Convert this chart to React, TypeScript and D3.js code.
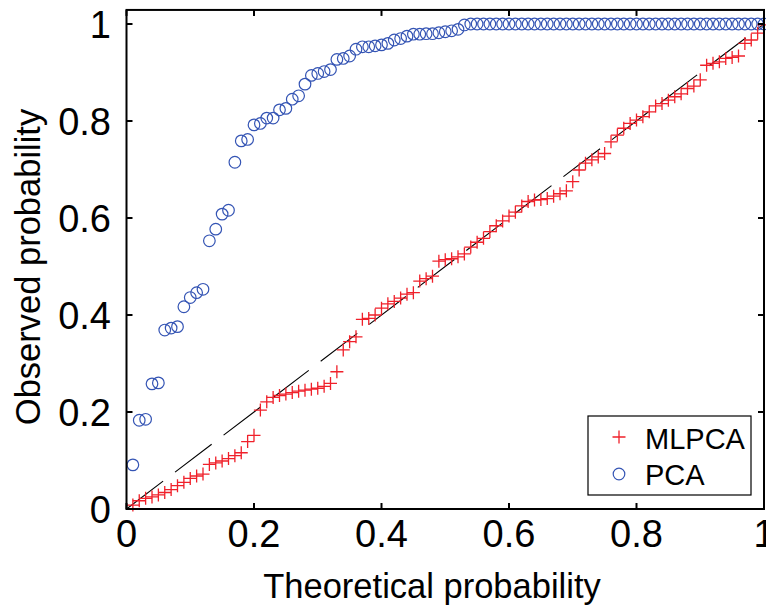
import React from "react";
import * as d3 from "d3";

// Sorted observed probabilities for each method, plotted at i/100
const mlpcaValues = [
  0.008, 0.017, 0.022, 0.025, 0.029, 0.034, 0.040, 0.048, 0.055, 0.063,
  0.068, 0.072, 0.092, 0.095, 0.099, 0.104, 0.110, 0.116, 0.139, 0.152,
  0.204, 0.221, 0.230, 0.234, 0.237, 0.240, 0.243, 0.245, 0.247, 0.249,
  0.253, 0.259, 0.283, 0.328, 0.345, 0.355, 0.391, 0.393, 0.400, 0.414,
  0.423, 0.428, 0.435, 0.443, 0.446, 0.470, 0.475, 0.480, 0.511, 0.514,
  0.516, 0.520, 0.526, 0.540, 0.550, 0.558, 0.572, 0.584, 0.594, 0.604,
  0.612, 0.625, 0.634, 0.637, 0.638, 0.640, 0.645, 0.650, 0.656, 0.675,
  0.699, 0.713, 0.720, 0.726, 0.733, 0.757, 0.771, 0.785, 0.795, 0.802,
  0.809, 0.819, 0.831, 0.836, 0.843, 0.850, 0.856, 0.867, 0.872, 0.885,
  0.915, 0.919, 0.922, 0.929, 0.931, 0.934, 0.960, 0.967, 0.981, 0.998,
];

const pcaValues = [
  0.091, 0.183, 0.185, 0.258, 0.260, 0.369, 0.373, 0.376, 0.417, 0.436,
  0.446, 0.453, 0.553, 0.577, 0.608, 0.616, 0.715, 0.759, 0.762, 0.792,
  0.795, 0.806, 0.806, 0.823, 0.826, 0.845, 0.852, 0.876, 0.894, 0.898,
  0.902, 0.906, 0.927, 0.929, 0.934, 0.948, 0.953, 0.953, 0.955, 0.957,
  0.960, 0.967, 0.970, 0.975, 0.979, 0.979, 0.980, 0.980, 0.982, 0.984,
  0.986, 0.989, 0.998, 1, 1, 1, 1, 1, 1, 1,
  1, 1, 1, 1, 1, 1, 1, 1, 1, 1,
  1, 1, 1, 1, 1, 1, 1, 1, 1, 1,
  1, 1, 1, 1, 1, 1, 1, 1, 1, 1,
  1, 1, 1, 1, 1, 1, 1, 1, 1, 1,
];

const tickValues = [0, 0.2, 0.4, 0.6, 0.8, 1];
const seriesNames = ["MLPCA", "PCA"];

const W = 766;
const H = 609;
const FONT = "'Liberation Sans', Arial, Helvetica, sans-serif";
const RED = "#f0202a";
const BLUE = "#3454b4";
const TICK_FONT = 38;
const TITLE_FONT = 34.5;
const LEGEND_FONT = 29;

export default function App() {
  const x = d3.scaleLinear().domain([0, 1]).range([126.5, 764]);
  const y = d3.scaleLinear().domain([0, 1]).range([509, 24]);
  const top = y(1.029);
  const left = x(0);
  const right = x(1);
  const bottom = y(0);
  const tickLen = 6;
  const fmt = (v: number) => d3.format("~g")(v);

  const pts = (vals: number[]) =>
    vals.map((v, i) => ({ px: x((i + 1) / vals.length), py: y(v) }));

  const cross = (cx: number, cy: number, k: string | number, r = 6.5) => (
    <path
      key={k}
      d={`M${cx - r},${cy}H${cx + r}M${cx},${cy - r}V${cy + r}`}
      stroke={RED}
      strokeWidth={1.3}
      fill="none"
    />
  );

  const refLine = d3.line<number>().x((d) => x(d)).y((d) => y(d))([0, 1]) ?? "";

  return (
    <svg
      width={W}
      height={H}
      style={{ position: "absolute", left: 0, top: 0, background: "#fff" }}
      fontFamily={FONT}
    >
      <rect x={0} y={0} width={W} height={H} fill="#fff" />

      {/* y = x reference */}
      <path d={refLine} stroke="#000" strokeWidth={1.1} strokeDasharray="46 15" fill="none" />

      {/* PCA circles */}
      {pts(pcaValues).map((p, i) => (
        <circle key={`c${i}`} cx={p.px} cy={p.py} r={5.8} fill="none" stroke={BLUE} strokeWidth={1.2} />
      ))}

      {/* MLPCA crosses */}
      {pts(mlpcaValues).map((p, i) => cross(p.px, p.py, `p${i}`))}

      {/* axes box */}
      <rect x={left} y={top} width={right - left} height={bottom - top} fill="none" stroke="#000" strokeWidth={2} />

      {/* ticks on all four sides */}
      {tickValues.map((t) => (
        <g key={`t${t}`} stroke="#000" strokeWidth={2}>
          <line x1={x(t)} x2={x(t)} y1={bottom} y2={bottom - tickLen} />
          <line x1={x(t)} x2={x(t)} y1={top} y2={top + tickLen} />
          <line x1={left} x2={left + tickLen} y1={y(t)} y2={y(t)} />
          <line x1={right} x2={right - tickLen} y1={y(t)} y2={y(t)} />
        </g>
      ))}

      {/* tick labels */}
      {tickValues.map((t) => (
        <text key={`xl${t}`} x={x(t)} y={547} textAnchor="middle" fontSize={TICK_FONT} fill="#000">
          {fmt(t)}
        </text>
      ))}
      {tickValues.map((t) => (
        <text key={`yl${t}`} x={111} y={y(t)} dy="0.36em" textAnchor="end" fontSize={TICK_FONT} fill="#000">
          {fmt(t)}
        </text>
      ))}

      {/* axis titles */}
      <text x={432} y={598} textAnchor="middle" fontSize={TITLE_FONT} fill="#000">
        Theoretical probability
      </text>
      <text
        transform={`translate(40,267) rotate(-90)`}
        textAnchor="middle"
        fontSize={TITLE_FONT}
        fill="#000"
      >
        Observed probability
      </text>

      {/* legend */}
      <rect x={588} y={416} width={163} height={79} fill="#fff" stroke="#000" strokeWidth={1.2} />
      {cross(619, 437, "lg0")}
      <circle cx={619} cy={474} r={5.8} fill="none" stroke={BLUE} strokeWidth={1.2} />
      <text x={645} y={449} fontSize={LEGEND_FONT} fill="#000">{seriesNames[0]}</text>
      <text x={645} y={485} fontSize={LEGEND_FONT} fill="#000">{seriesNames[1]}</text>
    </svg>
  );
}
